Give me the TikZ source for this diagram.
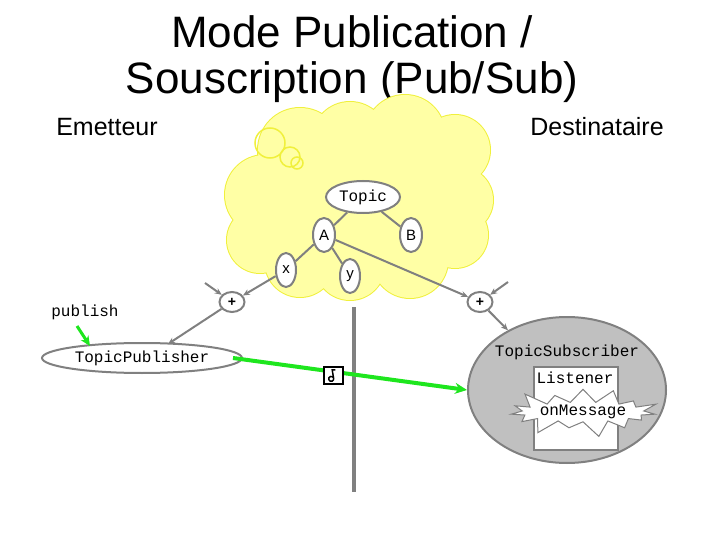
\documentclass[tikz,border=0pt]{standalone}
\usepackage{fontspec}
\setmainfont{Liberation Sans}
\newfontfamily\monof{Liberation Mono}
\usetikzlibrary{shapes.geometric,shapes.symbols,arrows.meta}
\definecolor{cloudfill}{RGB}{255,255,165}
\definecolor{cloudline}{RGB}{240,240,60}
\definecolor{gline}{RGB}{128,128,128}
\definecolor{gfill}{RGB}{192,192,192}
\definecolor{grn}{RGB}{30,230,30}
\begin{document}
\begin{tikzpicture}[x=1pt,y=-1pt,
  el/.style={ellipse,draw=gline,line width=2pt,fill=white,inner sep=0pt},
  mono/.style={font=\monof\fontsize{16}{16}\selectfont},
  sm/.style={font=\fontsize{15}{15}\selectfont},
  edge/.style={draw=gline,line width=2pt},
  arr/.style={edge,-{Stealth[length=7pt,width=6pt]}},
  garr/.style={draw=grn,line width=4pt,-{Stealth[length=12pt,width=11pt]}}]
\useasboundingbox (0,0) rectangle (720,540);
% title
\node[font=\fontsize{44}{44}\selectfont] (t1) at (352,32) {Mode Publication /};
\node[font=\fontsize{44}{44}\selectfont] (t2) at (352,82) {Souscription (Pub/Sub)};
\node[font=\fontsize{25}{25}\selectfont] (em) at (107,127) {Emetteur};
\node[font=\fontsize{25}{25}\selectfont] (de) at (597,127) {Destinataire};
% cloud
\def\cloudcircles{
  (300,150) circle (42) (350,140) circle (38) (405,135) circle (40) (455,150) circle (35)
  (265,195) circle (40) (460,200) circle (33) (260,240) circle (33) (455,235) circle (33)
  (300,262) circle (35) (350,265) circle (35) (410,260) circle (38) (360,200) circle (80)
  (420,200) circle (55) (300,200) circle (55)}
\fill[cloudfill,draw=cloudline,line width=2pt] \cloudcircles;
\fill[cloudfill] \cloudcircles;
\draw[cloudline,line width=1.5pt] (270,143) circle (15) (290,157) circle (10) (297,163) circle (6);
% vertical line
\draw[gline,line width=3.5pt] (354,307) -- (354,492);
% topic tree
\node[el,mono,minimum width=74pt,minimum height=32pt] (topic) at (363,197) {Topic};
\node[el,sm,minimum width=22pt,minimum height=34pt] (A) at (324,235) {A};
\node[el,sm,minimum width=22pt,minimum height=34pt] (B) at (411,235) {B};
\node[el,sm,minimum width=20pt,minimum height=34pt] (X) at (286,270) {x};
\node[el,sm,minimum width=20pt,minimum height=34pt] (Y) at (350,276) {y};
\node[el,font=\bfseries\fontsize{14}{14}\selectfont,minimum width=25pt,minimum height=20pt] (p1) at (232,302) {+};
\node[el,font=\bfseries\fontsize{14}{14}\selectfont,minimum width=25pt,minimum height=20pt] (p2) at (480,302) {+};
\draw[edge] (topic) -- (A);
\draw[edge] (topic) -- (B);
\draw[edge] (A) -- (X);
\draw[edge] (A) -- (Y);
\draw[arr] (X) -- (p1);
\draw[arr] (A) -- (p2);
\coordinate (in1) at (205,283);
\coordinate (in2) at (508,282);
\draw[arr] (in1) -- (p1);
\draw[arr] (in2) -- (p2);
% publisher
\node[el,mono,minimum width=200pt,minimum height=30pt] (pub) at (142,358) {TopicPublisher};
\node[mono] (publish) at (85,312) {publish};
\coordinate (g0) at (77,326);
\draw[draw=grn,line width=3pt,-{Stealth[length=10pt,width=9pt]}] (g0) -- (90,346);
\draw[arr] (p1) -- (168,344);
% subscriber
\node[ellipse,draw=gline,line width=2pt,fill=gfill,minimum width=198pt,minimum height=146pt] (sub) at (567,390) {};
\draw[arr] (p2) -- (sub);
\node[mono] (subt) at (567,352) {TopicSubscriber};
\node[draw=gline,line width=2pt,fill=white,minimum width=84pt,minimum height=83pt] (lis) at (576,408) {};
\node[mono] (list) at (575,378) {Listener};
\node[starburst,starburst points=15,starburst point height=18pt,draw=gline,line width=1pt,fill=white,minimum width=150pt,minimum height=48pt,inner sep=0pt,mono] (msg) at (583,412) {onMessage};
% message arrow
\coordinate (gs) at (233,358);
\draw[garr] (gs) -- (sub.west);
% icon
\begin{scope}[shift={(333,375)},rotate=20]
\node[draw=black,line width=2pt,fill=white,minimum width=19pt,minimum height=17pt] (icon) at (0,0) {};
\draw[line width=1.5pt] (-3,3) circle (2.5) (-0.5,3) -- (1,-5) -- (4,-4);
\end{scope}
\end{tikzpicture}
\end{document}
